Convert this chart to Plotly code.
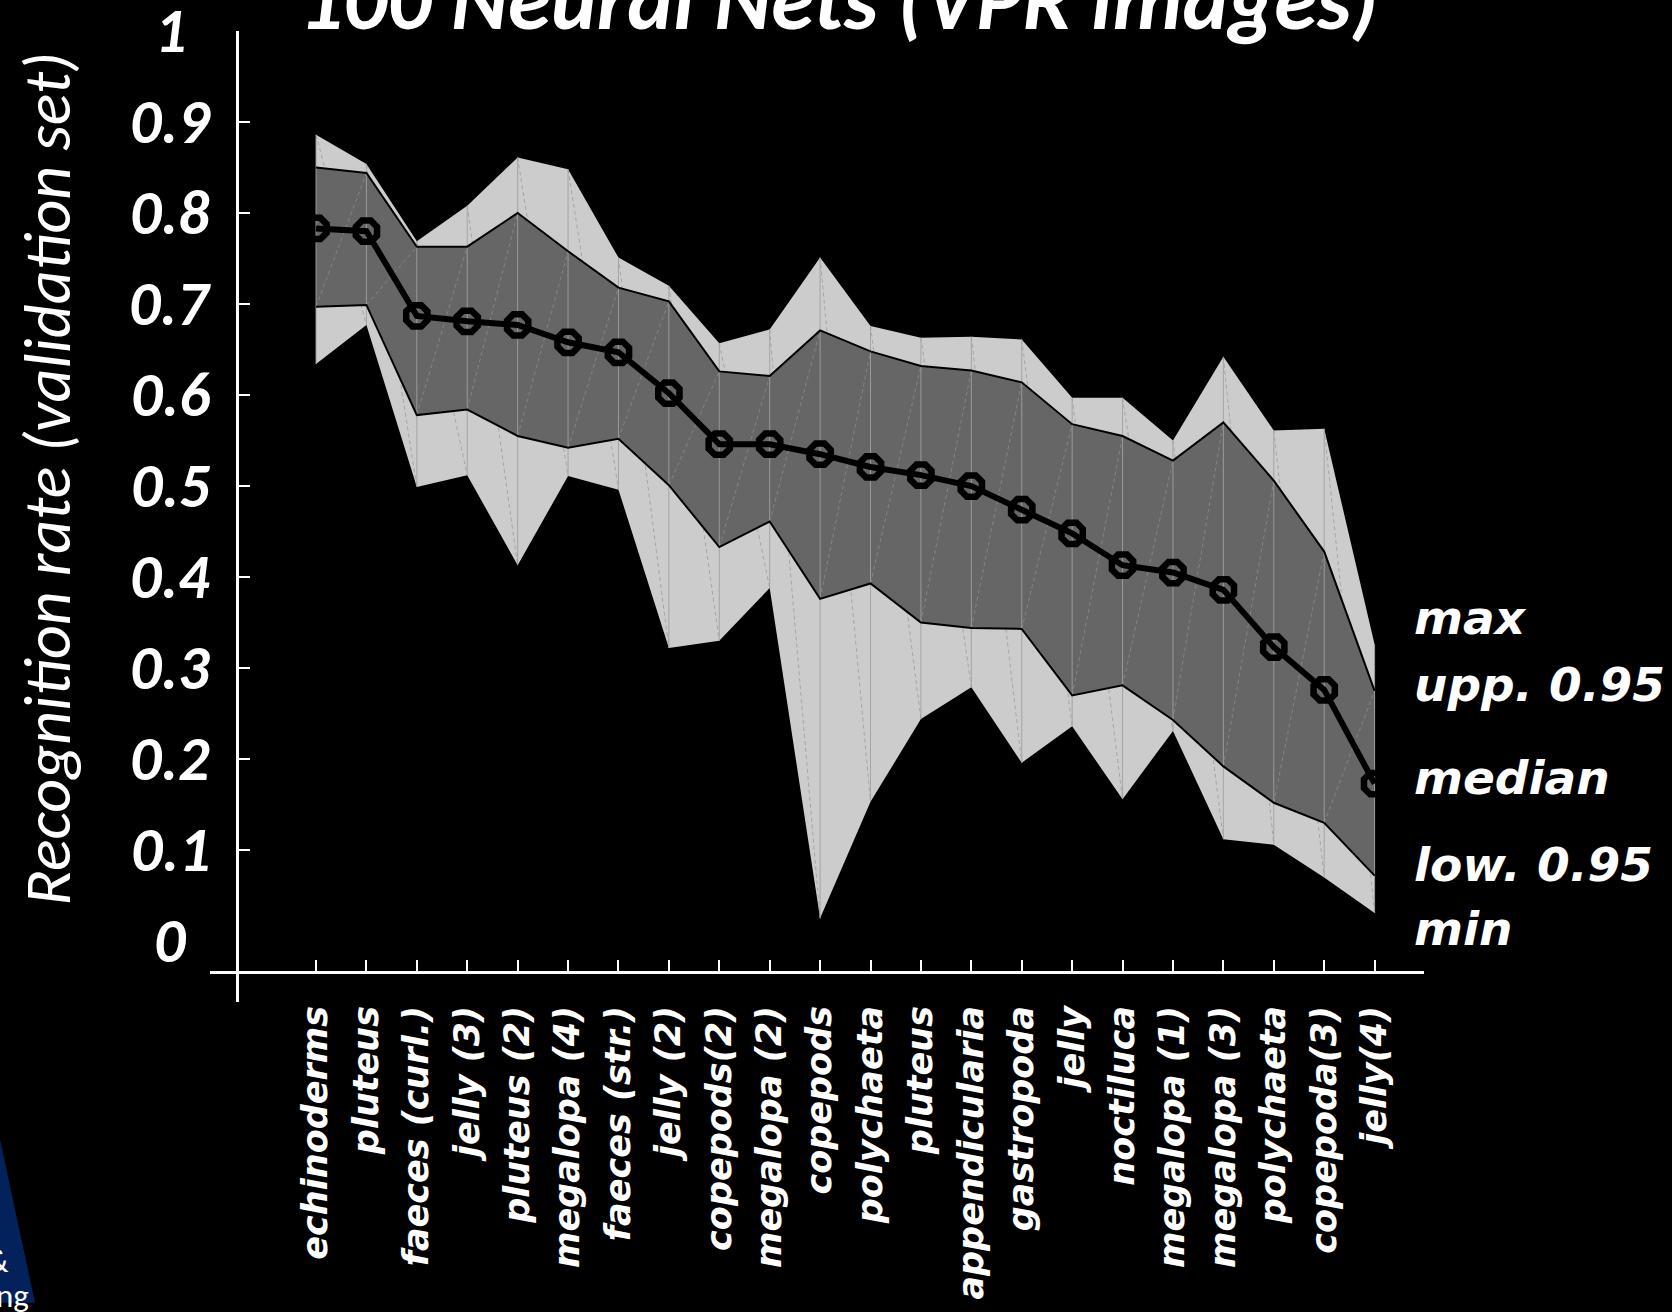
import plotly.graph_objects as go

# ---------------- data ----------------
categories = ["echinoderms", "pluteus", "faeces (curl.)", "jelly (3)", "pluteus (2)",
              "megalopa (4)", "faeces (str.)", "jelly (2)", "copepods(2)", "megalopa (2)",
              "copepods", "polychaeta", "pluteus", "appendicularia", "gastropoda",
              "jelly", "noctiluca", "megalopa (1)", "megalopa (3)", "polychaeta",
              "copepoda(3)", "jelly(4)"]
max_vals = [0.886, 0.854, 0.769, 0.808, 0.861, 0.848, 0.751, 0.720, 0.657, 0.672, 0.751,
            0.676, 0.663, 0.664, 0.661, 0.597, 0.597, 0.550, 0.642, 0.561, 0.563, 0.326]
upp95 = [0.850, 0.844, 0.763, 0.763, 0.800, 0.758, 0.718, 0.703, 0.626, 0.621, 0.671,
         0.648, 0.632, 0.627, 0.614, 0.568, 0.555, 0.528, 0.570, 0.506, 0.428, 0.275]
median = [0.783, 0.780, 0.687, 0.681, 0.677, 0.658, 0.647, 0.602, 0.546, 0.546, 0.535,
          0.521, 0.512, 0.500, 0.474, 0.448, 0.413, 0.405, 0.386, 0.323, 0.276, 0.173]
low95 = [0.697, 0.699, 0.578, 0.584, 0.555, 0.542, 0.552, 0.501, 0.433, 0.461, 0.376,
         0.393, 0.350, 0.344, 0.343, 0.270, 0.281, 0.243, 0.192, 0.152, 0.130, 0.072]
min_vals = [0.634, 0.677, 0.499, 0.512, 0.413, 0.511, 0.496, 0.322, 0.330, 0.388, 0.025,
            0.153, 0.244, 0.279, 0.196, 0.236, 0.156, 0.231, 0.112, 0.106, 0.070, 0.031]
y_tick_vals = [0, 0.1, 0.2, 0.3, 0.4, 0.5, 0.6, 0.7, 0.8, 0.9, 1.0]
y_tick_text = ["0", "0.1", "0.2", "0.3", "0.4", "0.5", "0.6", "0.7", "0.8", "0.9", "1"]
legend_labels = ["max", "upp. 0.95", "median", "low. 0.95", "min"]
title_text = "100 Neural Nets (VPR images)"
y_title = "Recognition rate (validation set)"

# ---------------- layout helpers ----------------
W, H = 1672, 1312
PL, PR, PT, PB = 210, 1424, 31, 1009


def px2x(px):
    return (px - PL) / (PR - PL)


def py2y(py):
    return (PB - py) / (PB - PT)


CAL = "Carlito, 'Liberation Sans Narrow', 'Arial Narrow', Lato, 'Open Sans', sans-serif"
DJ = "DejaVu Sans"

idx = list(range(len(categories)))
fig = go.Figure()

# light band (min..max)
fig.add_trace(go.Scatter(x=idx + idx[::-1], y=max_vals + min_vals[::-1], fill="toself",
                         fillcolor="#cccccc", mode="lines", line=dict(width=0),
                         hoverinfo="skip"))
# patch triangulation edges of the light band
dx, dy = [], []
for i in range(len(idx) - 1):
    dx += [idx[i], idx[i + 1], None]
    dy += [max_vals[i], min_vals[i + 1], None]
fig.add_trace(go.Scatter(x=dx, y=dy, mode="lines", hoverinfo="skip",
                         line=dict(color="#9c9c9c", width=0.8, dash="4px,3px")))
# dark band (low 0.95 .. upp 0.95)
fig.add_trace(go.Scatter(x=idx + idx[::-1], y=upp95 + low95[::-1], fill="toself",
                         fillcolor="#666666", mode="lines", line=dict(width=0),
                         hoverinfo="skip"))
dx, dy = [], []
for i in range(len(idx) - 1):
    dx += [idx[i], idx[i + 1], None]
    dy += [low95[i], upp95[i + 1], None]
fig.add_trace(go.Scatter(x=dx, y=dy, mode="lines", hoverinfo="skip",
                         line=dict(color="#8c8c8c", width=0.8, dash="4px,3px")))
# vertical patch edges
vx, vy = [], []
for i in idx:
    vx += [i, i, None]
    vy += [min_vals[i], max_vals[i], None]
fig.add_trace(go.Scatter(x=vx, y=vy, mode="lines", hoverinfo="skip",
                         line=dict(color="#a0a0a0", width=0.9)))
# band outlines
for series in (upp95, low95):
    fig.add_trace(go.Scatter(x=idx, y=series, mode="lines", hoverinfo="skip",
                             line=dict(color="black", width=2)))
# median
fig.add_trace(go.Scatter(x=idx, y=median, mode="lines+markers",
                         line=dict(color="black", width=6),
                         marker=dict(symbol="octagon", size=23, color="rgba(0,0,0,0)",
                                     line=dict(color="black", width=6.5))))

annotations = []
# y tick labels (centred, as in the reference)
for v, t in zip(y_tick_vals, y_tick_text):
    annotations.append(dict(x=px2x(170), xref="paper", y=v, yref="y", text=t,
                            showarrow=False, xanchor="center", yanchor="middle",
                            font=dict(family=CAL, size=62, color="white",
                                      weight="bold", style="italic")))
# y axis title
annotations.append(dict(x=px2x(48), xref="paper", y=py2y(482), yref="paper",
                        text=y_title, textangle=-90, showarrow=False,
                        xanchor="center", yanchor="middle",
                        font=dict(family=CAL, size=66, color="white", style="italic")))
# title (clipped at the top)
annotations.append(dict(x=px2x(838), xref="paper", y=py2y(-1), yref="paper",
                        text=title_text, showarrow=False, xanchor="center",
                        yanchor="middle",
                        font=dict(family=CAL, size=87, color="white",
                                  weight="bold", style="italic")))
# right-hand key
key_y = [622, 689, 783, 871, 935]
for lab, yy in zip(legend_labels, key_y):
    annotations.append(dict(x=px2x(1412), xref="paper", y=py2y(yy), yref="paper",
                            text=lab, showarrow=False, xanchor="left", yanchor="middle",
                            font=dict(family=DJ, size=47, color="white",
                                      weight="bold", style="italic")))
# logo fragments bottom-left
annotations.append(dict(x=px2x(11), xref="paper", y=py2y(1270), yref="paper", text="&",
                        showarrow=False, xanchor="right", yanchor="middle",
                        font=dict(family=CAL, size=33, color="white")))
annotations.append(dict(x=px2x(31), xref="paper", y=py2y(1305), yref="paper", text="ng",
                        showarrow=False, xanchor="right", yanchor="middle",
                        font=dict(family=CAL, size=33, color="white")))

shapes = [dict(type="path", xref="paper", yref="paper", layer="below",
               path=(f"M {px2x(-20)},{py2y(1147)} L {px2x(0)},{py2y(1147)} "
                     f"L {px2x(35)},{py2y(1312)} L {px2x(-20)},{py2y(1312)} Z"),
               fillcolor="#03215a", line=dict(width=0))]

fig.update_layout(
    width=W, height=H,
    margin=dict(l=PL, r=W - PR, t=PT, b=H - PB, pad=0),
    paper_bgcolor="black", plot_bgcolor="black",
    showlegend=False,
    annotations=annotations,
    shapes=shapes,
    xaxis=dict(range=[-2.103, 21.98], domain=[0, 1], anchor="free",
               position=py2y(979), showgrid=False, zeroline=False,
               showline=True, linecolor="white", linewidth=2.5,
               tickmode="array", tickvals=idx, ticktext=categories,
               ticks="inside", ticklen=11, tickwidth=2, tickcolor="white",
               tickangle=-90, ticklabelstandoff=18,
               tickfont=dict(family=DJ, size=35, color="white",
                             weight="bold", style="italic")),
    yaxis=dict(range=[-0.0669, 1.0], domain=[0, 1], anchor="free",
               position=px2x(237), showgrid=False, zeroline=False,
               showline=True, linecolor="white", linewidth=2.5,
               tickmode="array", tickvals=y_tick_vals[1:-1], showticklabels=False,
               ticks="inside", ticklen=11, tickwidth=2, tickcolor="white"),
)

fig.write_html("out.html", config={"displayModeBar": False},
               post_script=("document.body.style.margin='0';"
                            "document.body.style.background='black';"
                            "document.documentElement.style.background='black';"))
